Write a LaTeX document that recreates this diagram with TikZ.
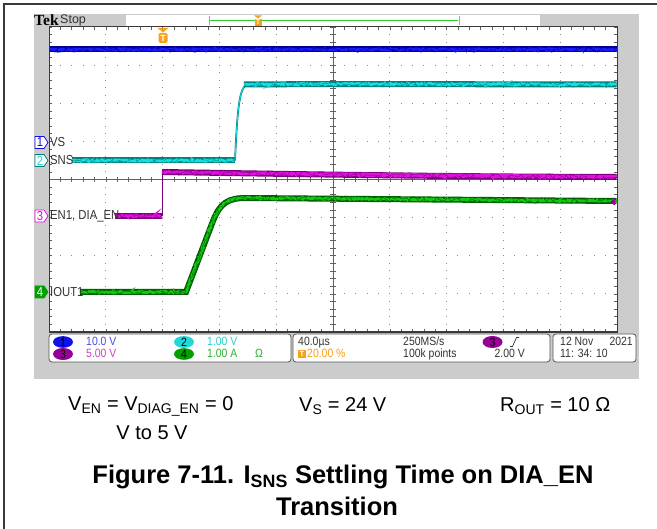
\documentclass[tikz,border=0pt]{standalone}
\usepackage{fontspec}
\setmainfont{Liberation Sans}
\newfontfamily\tekfont[FakeStretch=0.87]{Liberation Sans}
\newfontfamily\tekserif{Liberation Serif}
\usetikzlibrary{decorations.pathmorphing,shapes.geometric}
\definecolor{scopegray}{HTML}{CCCCCC}
\definecolor{framecol}{HTML}{3A3A3A}
\definecolor{labcol}{HTML}{333333}
\definecolor{boxcol}{HTML}{555555}
\definecolor{dotcol}{HTML}{8A8A8A}
\definecolor{centcol}{HTML}{606060}
\definecolor{torange}{HTML}{F7A11A}
\definecolor{tgreen}{HTML}{33CC33}
\definecolor{bluedark}{HTML}{00008C}
\definecolor{bluebright}{HTML}{1A1AFF}
\definecolor{cyandark}{HTML}{008080}
\definecolor{cyanbright}{HTML}{10E0E0}
\definecolor{magdark}{HTML}{7A007A}
\definecolor{magbright}{HTML}{E010E0}
\definecolor{grndark}{HTML}{005F00}
\definecolor{grnbright}{HTML}{12C812}
\definecolor{badgeblue}{HTML}{1010E8}
\definecolor{badgecyan}{HTML}{20D8D8}
\definecolor{badgemag}{HTML}{990099}
\definecolor{badgegrn}{HTML}{00A000}
\definecolor{txtblue}{HTML}{4A4AF0}
\definecolor{txtcyan}{HTML}{30CCCC}
\definecolor{txtmag}{HTML}{CC40CC}
\definecolor{txtgrn}{HTML}{30B030}
\newcommand\scopetrace[3]{%
  \draw[#1, line width=6pt] #3;
  \draw[#2, line width=2.6pt, decorate, decoration={random steps, segment length=1.2pt, amplitude=0.8pt}] #3;
  \draw[#1, line width=0.35pt, decorate, decoration={random steps, segment length=3pt, amplitude=3pt}] #3;
}
\begin{document}
\begin{tikzpicture}[x=1pt,y=-1pt,
  tek/.style={font=\tekfont\fontsize{13}{13}\selectfont, inner sep=0pt},
  lbl/.style={tek, anchor=west, text=labcol},
  info/.style={font=\tekfont\fontsize{12}{12}\selectfont, inner sep=0pt, anchor=west, text height=8pt, text depth=1.5pt},
  badge/.style={ellipse, minimum width=20pt, minimum height=11pt, inner sep=0pt, font=\tekfont\fontsize{12}{12}\selectfont, text=black},
  infobox/.style={draw=boxcol, fill=white, rounded corners=3pt, line width=0.8pt},
  captxt/.style={font=\fontsize{20}{24}\selectfont, inner sep=0pt},
  ttl/.style={font=\bfseries\fontsize{25.5}{30}\selectfont, inner sep=0pt},
]
\pgfmathsetseed{4242}
\useasboundingbox (0,0) rectangle (657,529);
\fill[white] (0,0) rectangle (657,529);
% outer frame
\draw[framecol, line width=1.5pt] (4,529) -- (4,4) -- (657,4);
% scope background
\fill[scopegray] (34,14.5) rectangle (639,379);
% top bar
\fill[white] (126,15.5) rectangle (540,26);
\draw[gray!70] (209.5,16) -- (209.5,25.5);
\draw[gray!70] (459,16) -- (459,25.5);
\draw[tgreen, line width=0.9pt] (210,20.5) -- (458,20.5);
\fill[torange] (254,15.5) -- (262,15.5) -- (258,18.5) -- cycle;
\node[fill=torange, text=white, minimum width=7pt, minimum height=7.5pt, inner sep=0pt, font=\bfseries\fontsize{7}{7}\selectfont] (tbar) at (258,22.5) {T};
\node[anchor=west, inner sep=0pt, font=\tekserif\bfseries\fontsize{15.5}{15.5}\selectfont] (tek) at (34,20.5) {Tek};
\node[anchor=west, inner sep=0pt, font=\fontsize{12.5}{12.5}\selectfont, text=labcol] (stop) at (60,20.5) {Stop};
% plot area
\fill[white] (49,27) rectangle (617,332);
% grid dots
\foreach \i in {1,2,3,4,6,7,8,9}{
  \foreach \j in {0,...,40}{
    \fill[dotcol] ({49+56.8*\i-0.5},{27+7.625*\j-0.5}) rectangle +(1,1);
  }
}
\foreach \j in {1,2,3,5,6,7}{
  \foreach \k in {0,...,50}{
    \fill[dotcol] ({49+11.36*\k-0.5},{27+38.125*\j-0.5}) rectangle +(1,1);
  }
}
% center lines with ticks
\draw[centcol, line width=0.9pt] (333,27) -- (333,332);
\draw[centcol, line width=0.9pt] (49,179.5) -- (617,179.5);
\foreach \j in {0,...,40}{
  \draw[centcol, line width=0.6pt] (330,{27+7.625*\j}) -- (336,{27+7.625*\j});
  \draw[centcol, line width=0.6pt] (49,{27+7.625*\j}) -- (52,{27+7.625*\j});
  \draw[centcol, line width=0.6pt] (617,{27+7.625*\j}) -- (614,{27+7.625*\j});
}
\foreach \k in {0,...,50}{
  \draw[centcol, line width=0.6pt] ({49+11.36*\k},177) -- ({49+11.36*\k},182);
  \draw[centcol, line width=0.6pt] ({49+11.36*\k},27) -- ({49+11.36*\k},30);
  \draw[centcol, line width=0.6pt] ({49+11.36*\k},332) -- ({49+11.36*\k},329);
}
% plot frame
\draw[framecol, line width=1pt] (49,332) -- (49,27) -- (617,27) -- (617,332);
\draw[framecol, line width=2pt] (48.5,332) -- (617.5,332);
% trigger marker
\fill[torange] (157.5,28) -- (168.5,28) -- (163,32.5) -- cycle;
\node[fill=torange, text=white, rounded corners=1.5pt, minimum width=9pt, minimum height=10pt, inner sep=0pt, font=\bfseries\fontsize{9}{9}\selectfont] (trig) at (163,38) {T};
% channel 1 (blue)
\scopetrace{bluedark}{bluebright}{(49.5,49.5) -- (616.5,49.5)}
% channel 2 (cyan)
\scopetrace{cyandark}{cyanbright}{(72,160.5) -- (234.5,160.5)}
\draw[cyandark, line width=1.8pt] (235,160.5) -- (236,140) .. controls (238,105) and (240,88) .. (247,84);
\draw[cyanbright, line width=0.8pt] (235,160.5) -- (236,140) .. controls (238,105) and (240,88) .. (247,84);
\scopetrace{cyandark}{cyanbright}{(244,84.5) -- (330,84) -- (616.5,84.5)}
% channel 3 (magenta)
\scopetrace{magdark}{magbright}{(115,216) -- (161.5,216)}
\draw[magdark, line width=1pt] (162.5,216) -- (162.5,172);
\scopetrace{magdark}{magbright}{(162,172) .. controls (260,173.5) and (420,176.5) .. (616.5,177)}
% channel 4 (green)
\scopetrace{grndark}{grnbright}{(80,292) -- (186,292) -- (213,221) .. controls (220,203) and (228,198) .. (246,198) -- (616.5,201)}
% trigger level marker
\fill[badgemag] (610,202) -- (615,198.5) -- (615,205.5) -- cycle;
% channel tags
\foreach \yy/\dcol/\fcol/\tcol/\num/\nm in {142.5/badgeblue/white/badgeblue/1/ta, 160.5/cyandark/white/badgecyan/2/tb, 216/magbright/white/magbright/3/tc, 292/badgegrn/badgegrn/white/4/td}{
  \filldraw[draw=\dcol, fill=\fcol, line width=0.8pt] (35,{\yy-6}) -- (44,{\yy-6}) -- (48,\yy) -- (44,{\yy+6}) -- (35,{\yy+6}) -- cycle;
  \node[tek, text=\tcol] (\nm) at (40,\yy) {\num};
}
\node[lbl] (lvs) at (50,142.5) {VS};
\node[lbl] (lsns) at (50,160.5) {SNS};
\node[lbl] (len) at (50,216) {EN1, DIA\_EN};
\node[lbl] (liout) at (50,292) {IOUT1};
% bottom info boxes
\draw[infobox] (49,334) rectangle (291,362);
\draw[infobox] (293,334) rectangle (550,362);
\draw[infobox] (553,334) rectangle (636,362);
\node[badge, fill=badgeblue] (b1) at (63,342) {1};
\node[badge, fill=badgemag] (b3) at (63,354) {3};
\node[badge, fill=badgecyan] (b2) at (184,342) {2};
\node[badge, fill=badgegrn] (b4) at (184,354) {4};
\node[info, text=txtblue] (v1) at (86,342) {10.0 V};
\node[info, text=txtmag] (v3) at (86,354) {5.00 V};
\node[info, text=txtcyan] (v2) at (207,342) {1.00 V};
\node[info, text=txtgrn] (v4) at (207,354) {1.00 A};
\node[info, text=txtgrn] (om) at (255,354) {Ω};
\node[info, text=labcol] (tb) at (298,342) {40.0µs};
\node[fill=torange, text=white, minimum size=8pt, inner sep=0pt, font=\bfseries\fontsize{7.5}{7.5}\selectfont] (tsq) at (302,354) {T};
\node[info, text=torange] (tpos) at (307,354) {20.00 \%};
\node[info, text=labcol] (sr) at (403,342) {250MS/s};
\node[info, text=labcol] (pts) at (403,354) {100k points};
\node[badge, fill=badgemag] (bt) at (492.5,342) {3};
\draw[labcol, line width=0.7pt] (510,346.5) -- (512.5,346.5) -- (516.5,337.5) -- (519,337.5);
\node[info, text=labcol, anchor=east] (tl) at (525,354) {2.00 V};
\node[info, text=labcol] (dt) at (560,342) {12 Nov};
\node[info, text=labcol, anchor=east] (yr) at (633,342) {2021};
\node[info, text=labcol] (tm) at (560,354) {11: 34: 10};
% captions
\node[captxt, anchor=west] (c1) at (68,406) {V\textsubscript{EN} = V\textsubscript{DIAG\_EN} = 0};
\node[captxt] (c2) at (152,433) {V to 5 V};
\node[captxt, anchor=west] (c3) at (299,406) {V\textsubscript{S} = 24 V};
\node[captxt, anchor=west] (c4) at (500,406) {R\textsubscript{OUT} = 10 Ω};
\node[ttl] (t1) at (343,477) {Figure 7-11. I\textsubscript{SNS} Settling Time on DIA\_EN};
\node[ttl] (t2) at (337,506) {Transition};
\end{tikzpicture}
\end{document}
